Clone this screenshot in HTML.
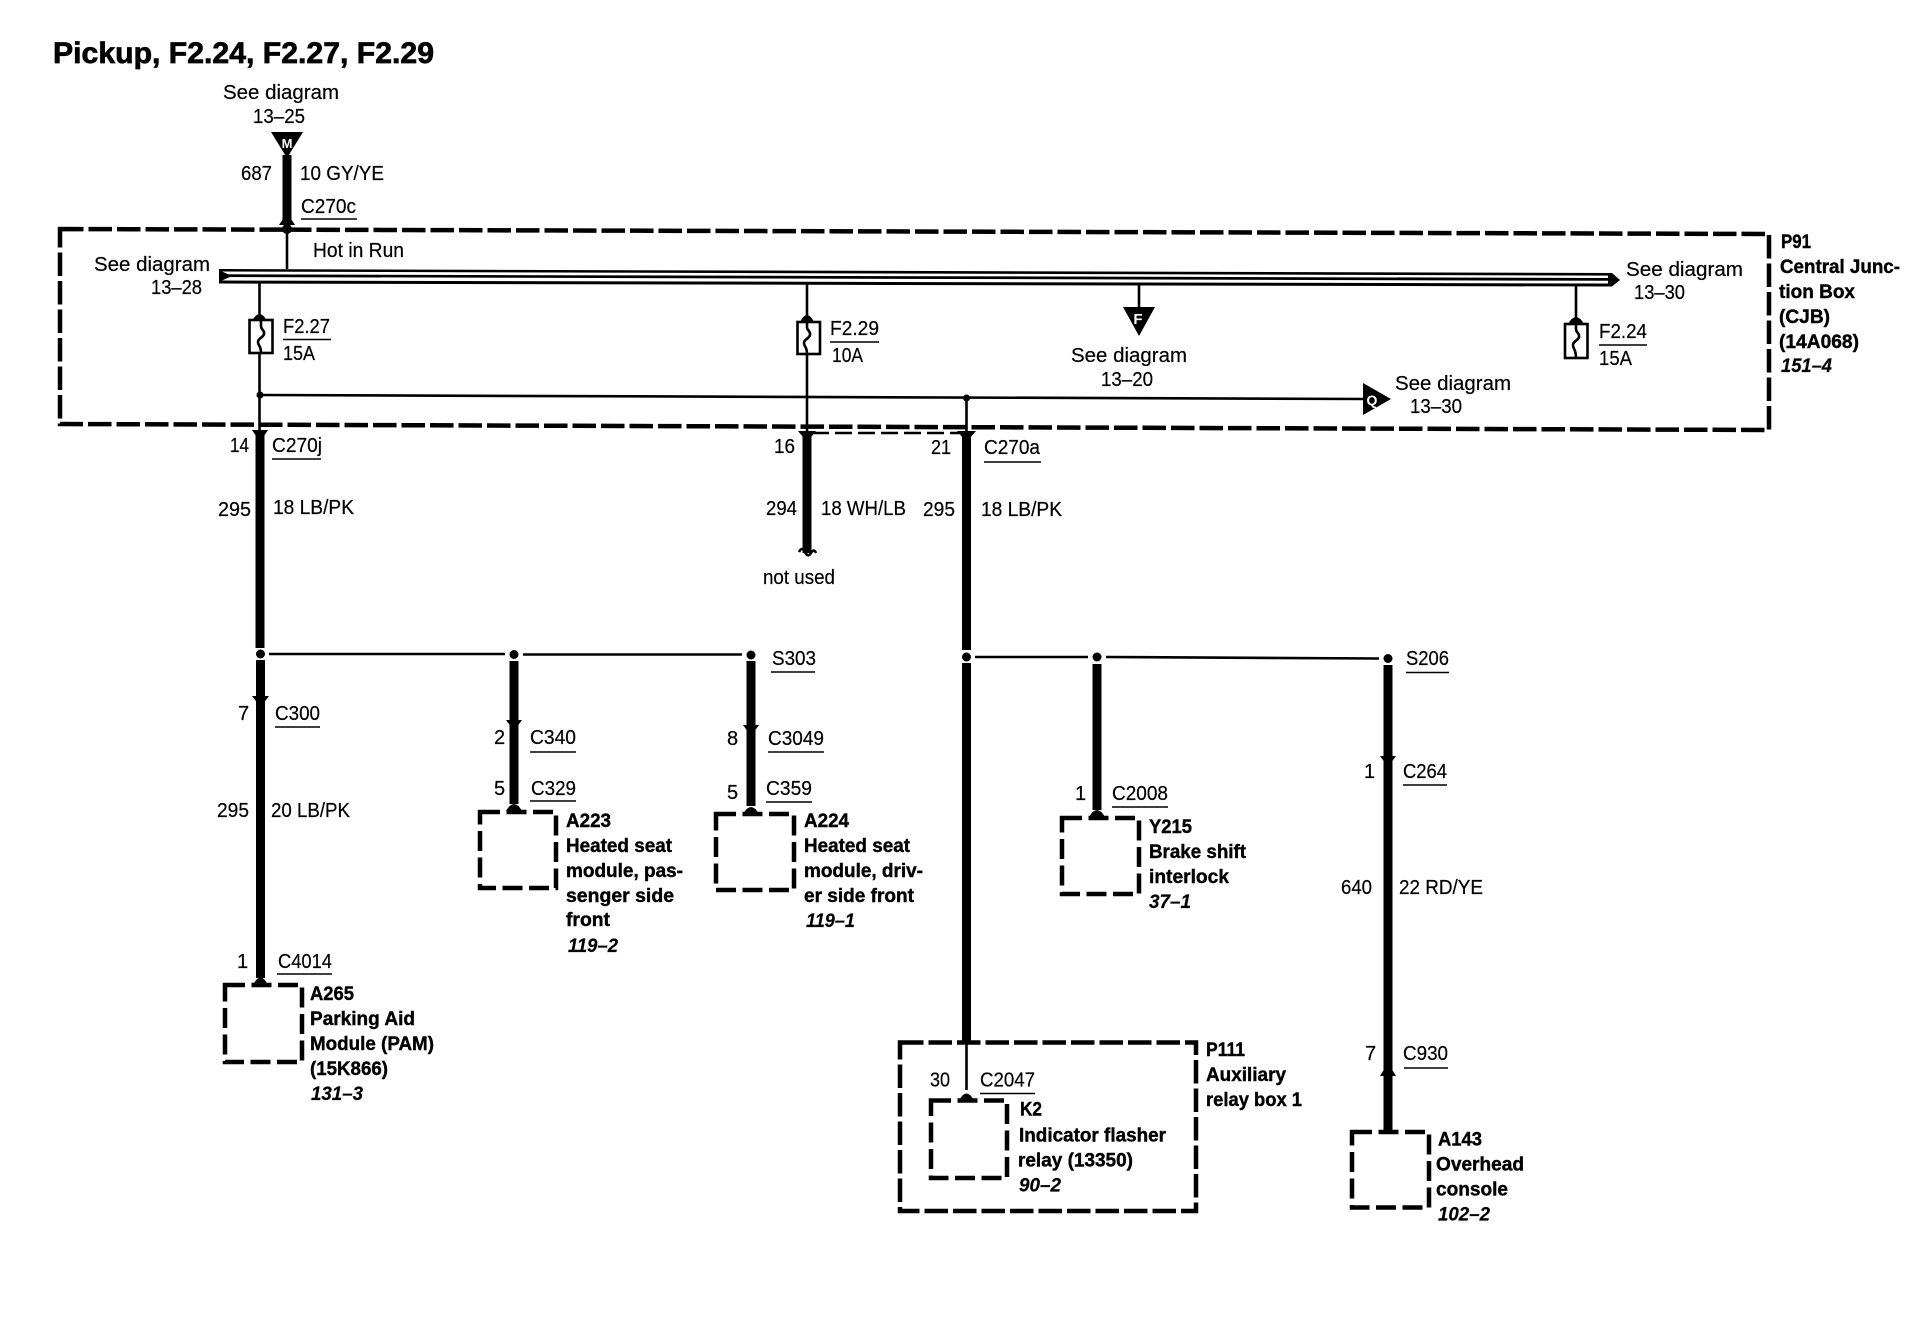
<!DOCTYPE html>
<html><head><meta charset="utf-8"><title>Pickup, F2.24, F2.27, F2.29</title>
<style>
html,body{margin:0;padding:0;background:#fff}
svg{display:block}
text{font-family:"Liberation Sans",sans-serif;fill:#000;font-size:20px;stroke:#000;stroke-width:.2px}
.b{font-weight:bold;font-size:19px;stroke:#000;stroke-width:.4px}
.i{font-weight:bold;font-style:italic;font-size:19px}
.t{font-weight:bold;font-size:30px;stroke:#000;stroke-width:.7px}
.w{fill:#fff;stroke:none;font-weight:bold;font-size:14px;text-anchor:middle}
.dash{fill:none;stroke:#000;stroke-width:4.5;stroke-dasharray:23.5 5}
.sm{stroke-dasharray:20 6.5}
.u{stroke:#000;stroke-width:1.6;fill:none}
.thin{stroke:#000;stroke-width:2.6;fill:none}
.thick{stroke:#000;stroke-width:9;fill:none}
.fuse{fill:#fff;stroke:#000;stroke-width:2.6}
</style></head>
<body>
<svg width="1932" height="1344" viewBox="0 0 1932 1344" xmlns="http://www.w3.org/2000/svg">
<rect width="1932" height="1344" fill="#fff"/>

<!-- containers -->
<path class="dash" d="M60 229 L1769 234 L1769 430 L60 424 Z"/>
<path class="dash" d="M900 1042.500 H1196 V1211 H900 Z"/>
<path class="dash sm" d="M931 1100.500 H1007 V1178 H931 Z"/>
<path class="dash sm" d="M225 985 H302 V1062 H225 Z"/>
<path class="dash sm" d="M480 812 H556 V888 H480 Z"/>
<path class="dash sm" d="M716 814 H794 V890 H716 Z"/>
<path class="dash sm" d="M1062 818 H1139 V894 H1062 Z"/>
<path class="dash sm" d="M1352 1132 H1429 V1207.500 H1352 Z"/>

<!-- bus -->
<path d="M219 269 L1612 273 L1620 280 L1612 286.500 L219 283.500 Z" fill="#000"/>
<path d="M222 271.500 L1608 275.600 L1608 278 L222 274.300 Z M222 277 L1608 280.800 L1608 283.500 L222 280.500 Z" fill="#fff"/>
<path d="M222 271.500 L232 276 L222 280.500 Z" fill="#000"/>

<!-- thin wires -->
<path class="thin" d="M287 229 V269"/>
<path class="thin" d="M259.500 283 V433"/>
<path class="thin" d="M807 283 V433"/>
<path class="thin" d="M1139 284 V308"/>
<path class="thin" d="M1576 286 V320"/>
<path class="thin" d="M260 395 L1365 399"/>
<path class="thin" d="M966.500 398 V433"/>
<path class="thin" d="M812 433 H966" stroke-dasharray="17 6"/>
<path class="thin" d="M269 654 H505 M523 654.500 H742"/>
<path class="thin" d="M975 657 H1088 M1106 657 L1379 658.500"/>
<path class="thin" d="M966.500 1043 V1090"/>

<!-- thick wires -->
<path class="thick" d="M287 155 V222"/>
<path class="thick" d="M260 433 V648"/>
<path class="thick" d="M260.500 660 V978"/>
<path class="thick" d="M807 433 V553"/>
<path class="thick" d="M966.500 433 V650"/>
<path class="thick" d="M966.500 663 V1043"/>
<path class="thick" d="M514 661 V804"/>
<path class="thick" d="M751 661 V806"/>
<path class="thick" d="M1097 664 V810"/>
<path class="thick" d="M1388 665 V1132"/>

<!-- junction dots -->
<g fill="#000">
<circle cx="287" cy="229" r="5"/>
<circle cx="260" cy="395" r="3.500"/>
<circle cx="966.500" cy="398" r="3.500"/>
<circle cx="260.500" cy="654" r="4.500"/>
<circle cx="514" cy="654.500" r="4.500"/>
<circle cx="751" cy="655" r="4.500"/>
<circle cx="966.500" cy="657" r="4.500"/>
<circle cx="1097" cy="657" r="4.500"/>
<circle cx="1388" cy="658.500" r="4.500"/>
<!-- domes (upward) -->
<path d="M279 225 Q287 210 295 225 Z"/>
<path d="M252 321 Q259.500 307 267 321 Z"/>
<path d="M800 322 Q807 308 814 322 Z"/>
<path d="M1568 324 Q1576 310 1584 324 Z"/>
<path d="M253 985 Q260.500 970 268 985 Z"/>
<path d="M506 811 Q514 797 522 811 Z"/>
<path d="M743 814 Q751 800 759 814 Z"/>
<path d="M1089 817 Q1097 803 1105 817 Z"/>
<path d="M959 1100.500 Q966.500 1086.500 974 1100.500 Z"/>
<path d="M1380 1076 L1388 1063 L1396 1076 Z"/>
<!-- chevrons (downward) -->
<path d="M252 430 L268 430 L260 442 Z"/>
<path d="M798 431 L816 431 L807 442 Z"/>
<path d="M957 431 L976 431 L966.500 442 Z"/>
<path d="M252 696 L269 696 L260.500 707 Z"/>
<path d="M506 720 L522 720 L514 731 Z"/>
<path d="M743 725 L759 725 L751 736 Z"/>
<path d="M1380 756 L1396 756 L1388 767 Z"/>
</g>
<path d="M799 552 Q802 546 805 552 Q808 558 811 553 Q814 548 816 553" fill="none" stroke="#000" stroke-width="2.600"/>

<!-- fuses -->
<rect class="fuse" x="249.500" y="320" width="23" height="33"/>
<path d="M261 320 v6 c0 4 4 4 3 8 c-1 4 -6 4 -6 8 c0 4 3 3 3 11" fill="none" stroke="#000" stroke-width="2.600"/>
<rect class="fuse" x="797.500" y="322" width="22.500" height="32"/>
<path d="M807 322 v5 c0 4 4 4 3 8 c-1 4 -6 4 -6 8 c0 4 3 3 3 11" fill="none" stroke="#000" stroke-width="2.600"/>
<rect class="fuse" x="1565" y="324" width="22.500" height="34"/>
<path d="M1576 324 v5 c0 4 4 4 3 8 c-1 4 -6 4 -6 8 c0 4 3 4 3 13" fill="none" stroke="#000" stroke-width="2.600"/>

<!-- triangle connectors -->
<polygon points="271,132 303,132 287,158" fill="#000"/>
<text class="w" x="287" y="148" style="font-size:13px">M</text>
<polygon points="1123,307 1155,307 1139,336" fill="#000"/>
<text class="w" x="1138" y="324" style="font-size:15px">F</text>
<polygon points="1363,383 1391,399 1363,415" fill="#000"/>
<text class="w" x="1372" y="405" style="font-size:14px">Q</text>

<!-- underlines -->
<path class="u" d="M301 219H357 M283 339.500H331 M272 459H321 M830 342H879 M984 462H1041 M771 672H815 M1406 672.500H1449 M1599 345H1647 M275 727H320 M277 974H332 M530 752H576 M530 801H576 M768 752H824 M766 802H812 M1112 807H1168 M1403 785H1447 M1404 1068H1448 M980 1093.500H1035"/>

<!-- title -->
<text class="t" x="53" y="63" textLength="381" lengthAdjust="spacingAndGlyphs">Pickup, F2.24, F2.27, F2.29</text>

<!-- regular labels -->
<text x="223" y="99" textLength="116" lengthAdjust="spacingAndGlyphs">See diagram</text>
<text x="253" y="123" textLength="52" lengthAdjust="spacingAndGlyphs">13–25</text>
<text x="241" y="180" textLength="31" lengthAdjust="spacingAndGlyphs">687</text>
<text x="300" y="180" textLength="84" lengthAdjust="spacingAndGlyphs">10 GY/YE</text>
<text x="301" y="213" textLength="55" lengthAdjust="spacingAndGlyphs">C270c</text>
<text x="313" y="257" textLength="91" lengthAdjust="spacingAndGlyphs">Hot in Run</text>
<text x="94" y="271" textLength="116" lengthAdjust="spacingAndGlyphs">See diagram</text>
<text x="151" y="294" textLength="51" lengthAdjust="spacingAndGlyphs">13–28</text>
<text x="283" y="333" textLength="47" lengthAdjust="spacingAndGlyphs">F2.27</text>
<text x="283" y="360" textLength="32" lengthAdjust="spacingAndGlyphs">15A</text>
<text x="230" y="452" textLength="19" lengthAdjust="spacingAndGlyphs">14</text>
<text x="272" y="452" textLength="50" lengthAdjust="spacingAndGlyphs">C270j</text>
<text x="218" y="516" textLength="33" lengthAdjust="spacingAndGlyphs">295</text>
<text x="273" y="514" textLength="81" lengthAdjust="spacingAndGlyphs">18 LB/PK</text>

<text x="830" y="335" textLength="49" lengthAdjust="spacingAndGlyphs">F2.29</text>
<text x="832" y="362" textLength="31" lengthAdjust="spacingAndGlyphs">10A</text>
<text x="774" y="453" textLength="21" lengthAdjust="spacingAndGlyphs">16</text>
<text x="931" y="454" textLength="20" lengthAdjust="spacingAndGlyphs">21</text>
<text x="984" y="454" textLength="56" lengthAdjust="spacingAndGlyphs">C270a</text>
<text x="766" y="515" textLength="31" lengthAdjust="spacingAndGlyphs">294</text>
<text x="821" y="515" textLength="85" lengthAdjust="spacingAndGlyphs">18 WH/LB</text>
<text x="923" y="516" textLength="32" lengthAdjust="spacingAndGlyphs">295</text>
<text x="981" y="516" textLength="81" lengthAdjust="spacingAndGlyphs">18 LB/PK</text>
<text x="763" y="584" textLength="72" lengthAdjust="spacingAndGlyphs">not used</text>
<text x="1071" y="362" textLength="116" lengthAdjust="spacingAndGlyphs">See diagram</text>
<text x="1101" y="386" textLength="52" lengthAdjust="spacingAndGlyphs">13–20</text>
<text x="1395" y="390" textLength="116" lengthAdjust="spacingAndGlyphs">See diagram</text>
<text x="1410" y="413" textLength="52" lengthAdjust="spacingAndGlyphs">13–30</text>
<text x="1626" y="276" textLength="117" lengthAdjust="spacingAndGlyphs">See diagram</text>
<text x="1634" y="299" textLength="51" lengthAdjust="spacingAndGlyphs">13–30</text>
<text x="1599" y="338" textLength="48" lengthAdjust="spacingAndGlyphs">F2.24</text>
<text x="1599" y="365" textLength="33" lengthAdjust="spacingAndGlyphs">15A</text>

<text x="772" y="665" textLength="44" lengthAdjust="spacingAndGlyphs">S303</text>
<text x="1406" y="665" textLength="43" lengthAdjust="spacingAndGlyphs">S206</text>
<text x="238" y="720">7</text>
<text x="275" y="720" textLength="45" lengthAdjust="spacingAndGlyphs">C300</text>
<text x="217" y="817" textLength="32" lengthAdjust="spacingAndGlyphs">295</text>
<text x="271" y="817" textLength="79" lengthAdjust="spacingAndGlyphs">20 LB/PK</text>
<text x="237" y="968">1</text>
<text x="278" y="968" textLength="54" lengthAdjust="spacingAndGlyphs">C4014</text>
<text x="494" y="744">2</text>
<text x="530" y="744" textLength="46" lengthAdjust="spacingAndGlyphs">C340</text>
<text x="494" y="795">5</text>
<text x="531" y="795" textLength="45" lengthAdjust="spacingAndGlyphs">C329</text>
<text x="727" y="745">8</text>
<text x="768" y="745" textLength="56" lengthAdjust="spacingAndGlyphs">C3049</text>
<text x="727" y="799">5</text>
<text x="766" y="795" textLength="46" lengthAdjust="spacingAndGlyphs">C359</text>
<text x="1075" y="800">1</text>
<text x="1112" y="800" textLength="56" lengthAdjust="spacingAndGlyphs">C2008</text>
<text x="1364" y="778">1</text>
<text x="1403" y="778" textLength="44" lengthAdjust="spacingAndGlyphs">C264</text>
<text x="1341" y="894" textLength="31" lengthAdjust="spacingAndGlyphs">640</text>
<text x="1399" y="894" textLength="84" lengthAdjust="spacingAndGlyphs">22 RD/YE</text>
<text x="1365" y="1060">7</text>
<text x="1403" y="1060" textLength="45" lengthAdjust="spacingAndGlyphs">C930</text>
<text x="930" y="1086.500" textLength="20" lengthAdjust="spacingAndGlyphs">30</text>
<text x="980" y="1086.500" textLength="55" lengthAdjust="spacingAndGlyphs">C2047</text>

<!-- bold component labels -->
<text class="b" x="1781" y="248" textLength="30" lengthAdjust="spacingAndGlyphs">P91</text>
<text class="b" x="1780" y="273" textLength="120" lengthAdjust="spacingAndGlyphs">Central Junc-</text>
<text class="b" x="1779" y="298" textLength="76" lengthAdjust="spacingAndGlyphs">tion Box</text>
<text class="b" x="1779" y="323" textLength="51" lengthAdjust="spacingAndGlyphs">(CJB)</text>
<text class="b" x="1779" y="348" textLength="80" lengthAdjust="spacingAndGlyphs">(14A068)</text>
<text class="i" x="1781" y="372" textLength="51" lengthAdjust="spacingAndGlyphs">151–4</text>

<text class="b" x="310" y="1000" textLength="44" lengthAdjust="spacingAndGlyphs">A265</text>
<text class="b" x="310" y="1025" textLength="105" lengthAdjust="spacingAndGlyphs">Parking Aid</text>
<text class="b" x="310" y="1050" textLength="124" lengthAdjust="spacingAndGlyphs">Module (PAM)</text>
<text class="b" x="310" y="1075" textLength="78" lengthAdjust="spacingAndGlyphs">(15K866)</text>
<text class="i" x="311" y="1100" textLength="52" lengthAdjust="spacingAndGlyphs">131–3</text>

<text class="b" x="566" y="827" textLength="45" lengthAdjust="spacingAndGlyphs">A223</text>
<text class="b" x="566" y="852" textLength="106" lengthAdjust="spacingAndGlyphs">Heated seat</text>
<text class="b" x="566" y="877" textLength="117" lengthAdjust="spacingAndGlyphs">module, pas-</text>
<text class="b" x="566" y="902" textLength="108" lengthAdjust="spacingAndGlyphs">senger side</text>
<text class="b" x="566" y="926" textLength="44" lengthAdjust="spacingAndGlyphs">front</text>
<text class="i" x="568" y="952" textLength="50" lengthAdjust="spacingAndGlyphs">119–2</text>

<text class="b" x="804" y="827" textLength="45" lengthAdjust="spacingAndGlyphs">A224</text>
<text class="b" x="804" y="852" textLength="106" lengthAdjust="spacingAndGlyphs">Heated seat</text>
<text class="b" x="804" y="877" textLength="119" lengthAdjust="spacingAndGlyphs">module, driv-</text>
<text class="b" x="804" y="902" textLength="110" lengthAdjust="spacingAndGlyphs">er side front</text>
<text class="i" x="806" y="927" textLength="49" lengthAdjust="spacingAndGlyphs">119–1</text>

<text class="b" x="1149" y="833" textLength="43" lengthAdjust="spacingAndGlyphs">Y215</text>
<text class="b" x="1149" y="858" textLength="97" lengthAdjust="spacingAndGlyphs">Brake shift</text>
<text class="b" x="1149" y="883" textLength="80" lengthAdjust="spacingAndGlyphs">interlock</text>
<text class="i" x="1149" y="908" textLength="42" lengthAdjust="spacingAndGlyphs">37–1</text>

<text class="b" x="1206" y="1056" textLength="39" lengthAdjust="spacingAndGlyphs">P111</text>
<text class="b" x="1206" y="1081" textLength="80" lengthAdjust="spacingAndGlyphs">Auxiliary</text>
<text class="b" x="1206" y="1106" textLength="96" lengthAdjust="spacingAndGlyphs">relay box 1</text>

<text class="b" x="1020" y="1115.500" textLength="22" lengthAdjust="spacingAndGlyphs">K2</text>
<text class="b" x="1019" y="1141.500" textLength="147" lengthAdjust="spacingAndGlyphs">Indicator flasher</text>
<text class="b" x="1018" y="1166.500" textLength="115" lengthAdjust="spacingAndGlyphs">relay (13350)</text>
<text class="i" x="1019" y="1191.500" textLength="42" lengthAdjust="spacingAndGlyphs">90–2</text>

<text class="b" x="1438" y="1145.500" textLength="44" lengthAdjust="spacingAndGlyphs">A143</text>
<text class="b" x="1436" y="1170.500" textLength="88" lengthAdjust="spacingAndGlyphs">Overhead</text>
<text class="b" x="1436" y="1195.500" textLength="72" lengthAdjust="spacingAndGlyphs">console</text>
<text class="i" x="1438" y="1220.500" textLength="52" lengthAdjust="spacingAndGlyphs">102–2</text>
</svg>
</body></html>
